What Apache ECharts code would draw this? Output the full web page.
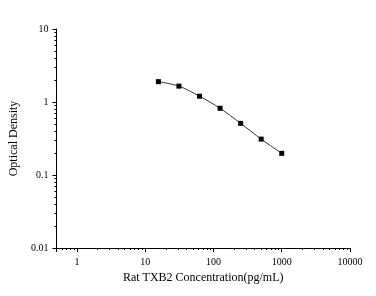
<!DOCTYPE html>
<html>
<head>
<meta charset="UTF-8">
<script src="https://cdn.jsdelivr.net/npm/echarts@6/dist/echarts.min.js"></script>
<style>
    html, body { margin: 0; padding: 0; background: #fff; }
    #chart { width: 376px; height: 296px; }
</style>
</head>
<body>
<div id="chart"></div>
<script>
    // standard curve: concentration (pg/mL) vs OD
    var conc = [15.6, 31.2, 62.5, 125, 250, 500, 1000];
    var od = [1.9, 1.65, 1.2, 0.82, 0.51, 0.31, 0.198];

    var pts = [];
    for (var i = 0; i < conc.length; i++) {
        pts.push([conc[i], od[i]]);
    }

    var fontFam = '"Liberation Serif", "DejaVu Serif", serif';

    var chart = echarts.init(document.getElementById('chart'));
    chart.setOption({
        animation: false,
        grid: { left: 52, top: 29, right: 26, bottom: 48 },
        xAxis: {
            type: 'log',
            logBase: 10,
            min: 0.5,
            max: 10000,
            name: 'Rat TXB2 Concentration(pg/mL)',
            nameLocation: 'middle',
            nameGap: 24,
            nameTextStyle: { color: '#000', fontFamily: fontFam, fontSize: 12 },
            axisLine: { lineStyle: { color: '#000', width: 1 } },
            axisTick: { length: 4, lineStyle: { color: '#000' } },
            minorTick: { show: true, splitNumber: 9, length: 2, lineStyle: { color: '#000' } },
            axisLabel: {
                color: '#000', fontFamily: fontFam, fontSize: 10, margin: 9,
                formatter: function (v) { return v >= 1 ? String(v) : ''; }
            },
            splitLine: { show: false }
        },
        yAxis: {
            type: 'log',
            logBase: 10,
            min: 0.01,
            max: 10,
            name: 'Optical Density',
            nameLocation: 'middle',
            nameGap: 32,
            nameTextStyle: { color: '#000', fontFamily: fontFam, fontSize: 12 },
            axisLine: { show: true, lineStyle: { color: '#000', width: 1 } },
            axisTick: { show: true, length: 4, lineStyle: { color: '#000' } },
            minorTick: { show: true, splitNumber: 9, length: 2, lineStyle: { color: '#000' } },
            axisLabel: { color: '#000', fontFamily: fontFam, fontSize: 10, margin: 8 },
            splitLine: { show: false }
        },
        series: [{
            type: 'line',
            data: pts,
            smooth: 0.3,
            symbol: 'rect',
            symbolSize: 5,
            itemStyle: { color: '#000' },
            lineStyle: { color: '#333', width: 1 }
        }]
    });
</script>
</body>
</html>
